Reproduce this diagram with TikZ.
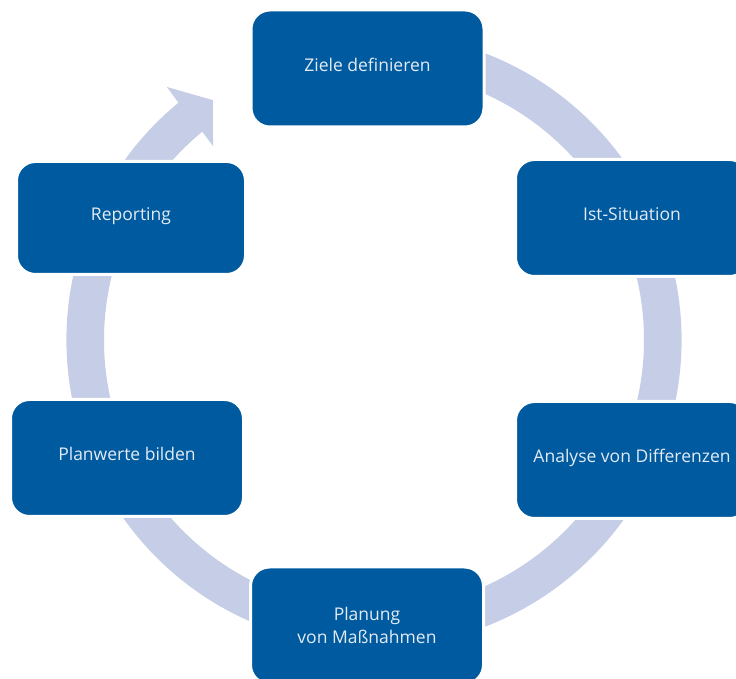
\documentclass[tikz,border=0pt]{standalone}
\usepackage{fontspec}
\setmainfont{Open Sans}
\definecolor{boxblue}{HTML}{005A9F}
\definecolor{ringblue}{HTML}{C5CEE6}
\definecolor{labelwhite}{HTML}{E4EBF4}
\begin{document}
\begin{tikzpicture}[x=1pt,y=1pt,
  stepbox/.style={rectangle, rounded corners=19pt, fill=boxblue, draw=white,
    line width=3pt, minimum width=233pt, minimum height=117pt,
    text=labelwhite, font=\fontsize{17.5}{23}\selectfont, align=center, inner sep=0pt},
  oneline/.style={text height=13pt, text depth=7pt},
  ringband/.style={fill=ringblue}]
\useasboundingbox (0,0) rectangle (736,679);

% circular band with a stubby arrow head, running clockwise
\fill[ringband, shift={(374,339)}]
  (70:307.5) arc[start angle=70, end angle=-230.5, radius=307.5]
  -- (-230.7:327) -- (-236.1:289) -- (-230.3:252) -- (-230.5:270)
  arc[start angle=-230.5, end angle=70, radius=270] -- cycle;

% process steps
\node[stepbox, oneline] (ziele) at (367.5,610.5) {Ziele definieren};
\node[stepbox, oneline] (ist)   at (632,461)     {Ist-Situation};
\node[stepbox, oneline] (ana)   at (632,219)     {Analyse von Differenzen};
\node[stepbox]          (plan)  at (367,53.5)    {Planung\\von Maßnahmen};
\node[stepbox, oneline] (werte) at (127,221)     {Planwerte bilden};
\node[stepbox, oneline, minimum width=229pt, minimum height=113pt] (rep) at (131,461) {Reporting};
\end{tikzpicture}
\end{document}
